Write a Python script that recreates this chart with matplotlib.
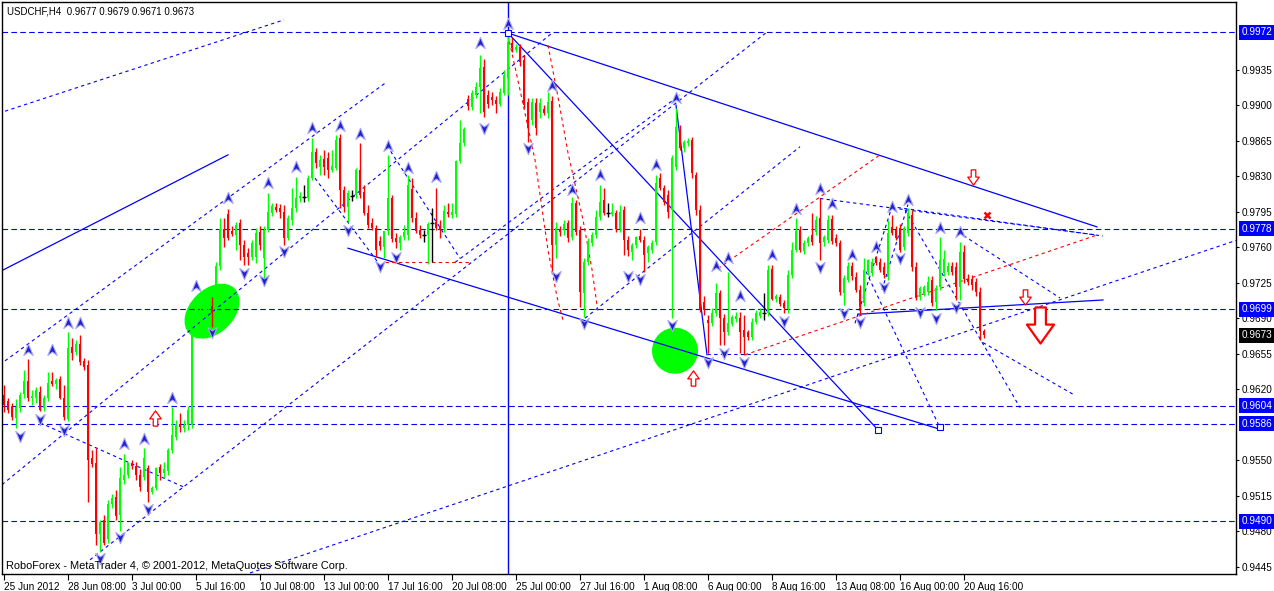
#!/usr/bin/env python3

import numpy as np
import matplotlib.pyplot as plt
import matplotlib.transforms as mtransforms
from matplotlib.patches import Ellipse
from matplotlib.path import Path

# H4 candles, 25 Jun 16:00 .. 21 Aug 12:00 2012
opens = [0.9614, 0.9608, 0.9603, 0.9592, 0.9602, 0.9615, 0.9628, 0.9611, 0.9611, 0.9617,
         0.9602, 0.9611, 0.9628, 0.9625, 0.9630, 0.9611, 0.9591, 0.9662, 0.9657, 0.9665,
         0.9648, 0.9644, 0.9552, 0.9547, 0.9477, 0.9491, 0.9472, 0.9507, 0.9514, 0.9496,
         0.9531, 0.9536, 0.9547, 0.9544, 0.9536, 0.9534, 0.9542, 0.9519, 0.9523, 0.9543,
         0.9538, 0.9539, 0.9560, 0.9573, 0.9586, 0.9582, 0.9585, 0.9585, 0.9674, 0.9686,
         0.9696, 0.9705, 0.9702, 0.9697, 0.9741, 0.9778, 0.9793, 0.9776, 0.9772, 0.9784,
         0.9762, 0.9754, 0.9750, 0.9750, 0.9775, 0.9749, 0.9777, 0.9794, 0.9800, 0.9799,
         0.9795, 0.9769, 0.9787, 0.9799, 0.9808, 0.9809, 0.9808, 0.9828, 0.9854, 0.9839,
         0.9847, 0.9848, 0.9836, 0.9838, 0.9868, 0.9816, 0.9800, 0.9810, 0.9811, 0.9836,
         0.9814, 0.9794, 0.9784, 0.9779, 0.9766, 0.9760, 0.9776, 0.9808, 0.9769, 0.9764,
         0.9770, 0.9772, 0.9817, 0.9789, 0.9777, 0.9772, 0.9772, 0.9784, 0.9785, 0.9781,
         0.9779, 0.9795, 0.9792, 0.9793, 0.9845, 0.9863, 0.9906, 0.9898, 0.9910, 0.9918,
         0.9938, 0.9910, 0.9908, 0.9905, 0.9901, 0.9912, 0.9927, 0.9961, 0.9954, 0.9957,
         0.9944, 0.9903, 0.9885, 0.9902, 0.9893, 0.9896, 0.9892, 0.9904, 0.9762, 0.9778,
         0.9777, 0.9784, 0.9770, 0.9804, 0.9777, 0.9715, 0.9745, 0.9764, 0.9772, 0.9790,
         0.9807, 0.9794, 0.9793, 0.9794, 0.9778, 0.9797, 0.9767, 0.9755, 0.9762, 0.9771,
         0.9767, 0.9754, 0.9757, 0.9765, 0.9828, 0.9818, 0.9811, 0.9797, 0.9839, 0.9875,
         0.9858, 0.9863, 0.9866, 0.9831, 0.9797, 0.9706, 0.9688, 0.9685, 0.9695, 0.9715,
         0.9690, 0.9676, 0.9684, 0.9689, 0.9690, 0.9678, 0.9676, 0.9672, 0.9686, 0.9692,
         0.9695, 0.9695, 0.9739, 0.9709, 0.9711, 0.9705, 0.9699, 0.9733, 0.9757, 0.9777,
         0.9756, 0.9764, 0.9772, 0.9775, 0.9789, 0.9765, 0.9767, 0.9788, 0.9769, 0.9764,
         0.9715, 0.9728, 0.9741, 0.9731, 0.9718, 0.9705, 0.9736, 0.9735, 0.9747, 0.9745,
         0.9740, 0.9731, 0.9780, 0.9777, 0.9779, 0.9760, 0.9774, 0.9792, 0.9740, 0.9711,
         0.9715, 0.9716, 0.9728, 0.9706, 0.9721, 0.9735, 0.9736, 0.9741, 0.9740, 0.9721,
         0.9755, 0.9729, 0.9729, 0.9726, 0.9716, 0.9677]
highs = [0.9624, 0.9611, 0.9606, 0.9610, 0.9617, 0.9639, 0.9650, 0.9619, 0.9622, 0.9623,
         0.9614, 0.9637, 0.9637, 0.9631, 0.9633, 0.9624, 0.9676, 0.9671, 0.9669, 0.9673,
         0.9651, 0.9649, 0.9560, 0.9562, 0.9491, 0.9496, 0.9511, 0.9517, 0.9521, 0.9543,
         0.9556, 0.9548, 0.9550, 0.9548, 0.9541, 0.9562, 0.9545, 0.9525, 0.9543, 0.9546,
         0.9548, 0.9562, 0.9603, 0.9590, 0.9597, 0.9590, 0.9604, 0.9677, 0.9690, 0.9700,
         0.9710, 0.9713, 0.9711, 0.9745, 0.9789, 0.9789, 0.9798, 0.9781, 0.9785, 0.9788,
         0.9767, 0.9759, 0.9767, 0.9779, 0.9781, 0.9781, 0.9813, 0.9804, 0.9804, 0.9803,
         0.9802, 0.9792, 0.9818, 0.9829, 0.9814, 0.9821, 0.9831, 0.9868, 0.9858, 0.9851,
         0.9856, 0.9854, 0.9856, 0.9871, 0.9872, 0.9820, 0.9816, 0.9816, 0.9838, 0.9863,
         0.9821, 0.9802, 0.9789, 0.9782, 0.9771, 0.9767, 0.9851, 0.9811, 0.9774, 0.9772,
         0.9782, 0.9831, 0.9828, 0.9795, 0.9782, 0.9777, 0.9785, 0.9799, 0.9818, 0.9787,
         0.9802, 0.9804, 0.9804, 0.9846, 0.9885, 0.9878, 0.9910, 0.9915, 0.9923, 0.9949,
         0.9945, 0.9915, 0.9913, 0.9909, 0.9917, 0.9935, 0.9972, 0.9967, 0.9960, 0.9960,
         0.9949, 0.9907, 0.9907, 0.9907, 0.9907, 0.9900, 0.9913, 0.9909, 0.9785, 0.9781,
         0.9787, 0.9787, 0.9809, 0.9807, 0.9781, 0.9749, 0.9769, 0.9775, 0.9797, 0.9821,
         0.9818, 0.9804, 0.9804, 0.9797, 0.9802, 0.9801, 0.9771, 0.9764, 0.9771, 0.9778,
         0.9771, 0.9762, 0.9767, 0.9831, 0.9833, 0.9821, 0.9816, 0.9851, 0.9897, 0.9880,
         0.9866, 0.9868, 0.9869, 0.9834, 0.9802, 0.9712, 0.9693, 0.9700, 0.9725, 0.9718,
         0.9694, 0.9736, 0.9693, 0.9696, 0.9696, 0.9693, 0.9678, 0.9690, 0.9698, 0.9700,
         0.9715, 0.9742, 0.9742, 0.9714, 0.9714, 0.9708, 0.9738, 0.9765, 0.9789, 0.9781,
         0.9767, 0.9771, 0.9794, 0.9791, 0.9808, 0.9772, 0.9792, 0.9792, 0.9773, 0.9767,
         0.9733, 0.9745, 0.9745, 0.9736, 0.9723, 0.9749, 0.9748, 0.9749, 0.9751, 0.9749,
         0.9745, 0.9787, 0.9792, 0.9781, 0.9783, 0.9781, 0.9799, 0.9797, 0.9745, 0.9722,
         0.9723, 0.9732, 0.9732, 0.9723, 0.9770, 0.9757, 0.9745, 0.9745, 0.9745, 0.9765,
         0.9762, 0.9734, 0.9733, 0.9730, 0.9721, 0.9679]
lows = [0.9598, 0.9597, 0.9590, 0.9582, 0.9598, 0.9611, 0.9608, 0.9605, 0.9606, 0.9599,
        0.9599, 0.9608, 0.9623, 0.9620, 0.9610, 0.9590, 0.9589, 0.9649, 0.9654, 0.9644,
        0.9639, 0.9509, 0.9543, 0.9467, 0.9460, 0.9467, 0.9469, 0.9503, 0.9491, 0.9480,
        0.9527, 0.9533, 0.9541, 0.9531, 0.9520, 0.9531, 0.9509, 0.9517, 0.9521, 0.9531,
        0.9533, 0.9536, 0.9557, 0.9570, 0.9578, 0.9578, 0.9580, 0.9582, 0.9671, 0.9683,
        0.9692, 0.9698, 0.9681, 0.9694, 0.9738, 0.9760, 0.9767, 0.9771, 0.9757, 0.9747,
        0.9742, 0.9742, 0.9747, 0.9744, 0.9757, 0.9728, 0.9775, 0.9791, 0.9795, 0.9789,
        0.9762, 0.9767, 0.9782, 0.9795, 0.9805, 0.9805, 0.9806, 0.9826, 0.9838, 0.9831,
        0.9831, 0.9828, 0.9834, 0.9836, 0.9799, 0.9795, 0.9785, 0.9806, 0.9808, 0.9808,
        0.9792, 0.9779, 0.9777, 0.9750, 0.9757, 0.9749, 0.9772, 0.9765, 0.9759, 0.9757,
        0.9767, 0.9767, 0.9785, 0.9774, 0.9769, 0.9765, 0.9743, 0.9745, 0.9777, 0.9769,
        0.9775, 0.9790, 0.9789, 0.9790, 0.9843, 0.9860, 0.9895, 0.9895, 0.9907, 0.9892,
        0.9888, 0.9897, 0.9900, 0.9892, 0.9899, 0.9910, 0.9910, 0.9952, 0.9952, 0.9939,
        0.9897, 0.9864, 0.9880, 0.9871, 0.9887, 0.9890, 0.9887, 0.9734, 0.9749, 0.9771,
        0.9772, 0.9765, 0.9767, 0.9772, 0.9701, 0.9691, 0.9742, 0.9761, 0.9769, 0.9787,
        0.9792, 0.9790, 0.9791, 0.9775, 0.9775, 0.9752, 0.9751, 0.9747, 0.9759, 0.9765,
        0.9736, 0.9745, 0.9754, 0.9762, 0.9816, 0.9802, 0.9789, 0.9690, 0.9836, 0.9856,
        0.9854, 0.9860, 0.9828, 0.9792, 0.9696, 0.9693, 0.9656, 0.9682, 0.9692, 0.9664,
        0.9664, 0.9673, 0.9682, 0.9686, 0.9656, 0.9654, 0.9669, 0.9669, 0.9684, 0.9690,
        0.9688, 0.9692, 0.9708, 0.9706, 0.9702, 0.9695, 0.9695, 0.9730, 0.9755, 0.9755,
        0.9753, 0.9761, 0.9762, 0.9772, 0.9747, 0.9761, 0.9764, 0.9763, 0.9761, 0.9713,
        0.9703, 0.9726, 0.9728, 0.9716, 0.9693, 0.9702, 0.9733, 0.9732, 0.9742, 0.9736,
        0.9730, 0.9728, 0.9772, 0.9767, 0.9755, 0.9757, 0.9771, 0.9737, 0.9708, 0.9708,
        0.9712, 0.9713, 0.9702, 0.9698, 0.9718, 0.9732, 0.9733, 0.9733, 0.9708, 0.9708,
        0.9725, 0.9723, 0.9718, 0.9712, 0.9669, 0.9671]
closes = [0.9605, 0.9600, 0.9593, 0.9603, 0.9614, 0.9628, 0.9611, 0.9613, 0.9619, 0.9600,
          0.9611, 0.9626, 0.9625, 0.9629, 0.9611, 0.9593, 0.9661, 0.9656, 0.9665, 0.9647,
          0.9642, 0.9550, 0.9546, 0.9477, 0.9489, 0.9469, 0.9507, 0.9513, 0.9495, 0.9533,
          0.9536, 0.9547, 0.9544, 0.9536, 0.9524, 0.9552, 0.9519, 0.9523, 0.9542, 0.9538,
          0.9541, 0.9560, 0.9575, 0.9586, 0.9583, 0.9585, 0.9600, 0.9674, 0.9686, 0.9696,
          0.9705, 0.9710, 0.9695, 0.9741, 0.9778, 0.9769, 0.9769, 0.9773, 0.9782, 0.9762,
          0.9750, 0.9750, 0.9764, 0.9774, 0.9762, 0.9777, 0.9795, 0.9801, 0.9797, 0.9795,
          0.9769, 0.9789, 0.9799, 0.9808, 0.9810, 0.9809, 0.9828, 0.9854, 0.9843, 0.9846,
          0.9839, 0.9836, 0.9840, 0.9866, 0.9816, 0.9800, 0.9813, 0.9810, 0.9836, 0.9811,
          0.9794, 0.9782, 0.9779, 0.9757, 0.9761, 0.9776, 0.9808, 0.9768, 0.9765, 0.9770,
          0.9775, 0.9821, 0.9789, 0.9776, 0.9772, 0.9772, 0.9783, 0.9784, 0.9779, 0.9777,
          0.9796, 0.9793, 0.9795, 0.9845, 0.9863, 0.9876, 0.9899, 0.9912, 0.9918, 0.9937,
          0.9893, 0.9901, 0.9905, 0.9901, 0.9913, 0.9930, 0.9962, 0.9956, 0.9957, 0.9942,
          0.9900, 0.9877, 0.9903, 0.9877, 0.9902, 0.9892, 0.9903, 0.9762, 0.9779, 0.9775,
          0.9783, 0.9769, 0.9804, 0.9775, 0.9716, 0.9745, 0.9766, 0.9772, 0.9790, 0.9805,
          0.9794, 0.9794, 0.9795, 0.9778, 0.9795, 0.9767, 0.9757, 0.9762, 0.9770, 0.9767,
          0.9752, 0.9760, 0.9764, 0.9823, 0.9818, 0.9805, 0.9795, 0.9848, 0.9878, 0.9858,
          0.9864, 0.9865, 0.9833, 0.9797, 0.9698, 0.9698, 0.9685, 0.9695, 0.9715, 0.9690,
          0.9676, 0.9685, 0.9691, 0.9692, 0.9676, 0.9672, 0.9672, 0.9686, 0.9695, 0.9696,
          0.9695, 0.9738, 0.9709, 0.9712, 0.9704, 0.9700, 0.9733, 0.9757, 0.9776, 0.9757,
          0.9764, 0.9769, 0.9765, 0.9787, 0.9764, 0.9770, 0.9787, 0.9766, 0.9764, 0.9716,
          0.9730, 0.9741, 0.9732, 0.9718, 0.9701, 0.9738, 0.9747, 0.9745, 0.9744, 0.9738,
          0.9733, 0.9774, 0.9774, 0.9769, 0.9757, 0.9779, 0.9794, 0.9740, 0.9710, 0.9720,
          0.9721, 0.9726, 0.9705, 0.9720, 0.9747, 0.9748, 0.9741, 0.9736, 0.9721, 0.9755,
          0.9729, 0.9726, 0.9723, 0.9716, 0.9677, 0.9673]

date_ticks = [0, 16, 32, 48, 64, 80, 96, 112, 128, 144, 160, 176, 192, 208, 224, 240]
date_labels = ['25 Jun 2012', '28 Jun 08:00', '3 Jul 00:00', '5 Jul 16:00', '10 Jul 08:00',
               '13 Jul 00:00', '17 Jul 16:00', '20 Jul 08:00', '25 Jul 00:00', '27 Jul 16:00',
               '1 Aug 08:00', '6 Aug 00:00', '8 Aug 16:00', '13 Aug 08:00', '16 Aug 00:00',
               '20 Aug 16:00']
# 0.9585 and 0.9970 sit under the level boxes and are not shown
price_ticks = [0.9445, 0.9480, 0.9515, 0.9550, 0.9620, 0.9655, 0.9690, 0.9725,
               0.9760, 0.9795, 0.9830, 0.9865, 0.9900, 0.9935]
levels = [0.9972, 0.9778, 0.9699, 0.9604, 0.9586, 0.9490]
last_price = 0.9673

# drawn objects, as (bar, price) pairs
solid_lines = [((-0.5, 0.9737), (56, 0.9851)),
               ((126, 0.9971), (273.25, 0.9780)),
               ((86, 0.9759), (234.5, 0.9580)),
               ((126, 0.9971), (218.5, 0.9580)),
               ((168, 0.9900), (175.75, 0.9654)),
               ((213.5, 0.9694), (274.75, 0.9708))]
dashed_lines = [((0.25, 0.9894), (70, 0.9984)),
                ((0.25, 0.9648), (95.75, 0.9923)),
                ((-0.5, 0.9526), (137, 0.9971)),
                ((21.5, 0.9452), (190.75, 0.9972)),
                ((145.25, 0.9690), (199, 0.9859)),
                ((112.75, 0.9745), (169, 0.9910)),
                ((61.5, 0.9439), (308.25, 0.9767)),
                ((175.75, 0.9655), (246.5, 0.9655)),
                ((204, 0.9808), (273.25, 0.9772)),
                ((221.75, 0.9800), (274.75, 0.9771)),
                ((238.5, 0.9775), (264, 0.9710)),
                ((9, 0.9587), (44.75, 0.9524)),
                ((77.75, 0.9828), (93.5, 0.9745)),
                ((95.75, 0.9860), (114, 0.9749)),
                ((225.25, 0.9797), (254, 0.9602)),
                ((244.75, 0.9666), (267.75, 0.9614)),
                ((215.5, 0.9736), (234, 0.9582)),
                ((212.75, 0.9685), (222, 0.9800)),
                ((219.5, 0.9718), (226, 0.9802))]
red_lines = [[(95.25, 0.9745), (116.5, 0.9745)],
             [(126, 0.9969), (129, 0.9915), (132.75, 0.9846), (136, 0.9757), (138.25, 0.9711), (139.75, 0.9688)],
             [(136, 0.9959), (138.5, 0.9908), (141, 0.9853), (144.75, 0.9787), (147, 0.9738), (148.5, 0.9696)],
             [(178.5, 0.9739), (219, 0.9851)],
             [(185.25, 0.9654), (273.25, 0.9772)]]
squares = [(126, 0.9971), (218.5, 0.9580), (234, 0.9583)]

frac_up = [(6, 0.9659), (12, 0.9659), (16, 0.9685), (19, 0.9685), (30, 0.9566), (35, 0.9571),
           (42, 0.9611), (48, 0.9722), (56, 0.9808), (66, 0.9823), (73, 0.9839), (77, 0.9877),
           (84, 0.9879), (89, 0.9872), (96, 0.9860), (101, 0.9838), (108, 0.9829), (119, 0.9961),
           (126, 0.9980), (137, 0.9919), (142, 0.9816), (149, 0.9831), (159, 0.9789), (163, 0.9841),
           (168, 0.9907), (178, 0.9741), (181, 0.9749), (184, 0.9712), (192, 0.9752), (198, 0.9798),
           (204, 0.9817), (207, 0.9803), (212, 0.9752), (218, 0.9760), (222, 0.9800), (226, 0.9807),
           (234, 0.9779), (239, 0.9775)]
frac_down = [(4, 0.9574), (9, 0.9591), (15, 0.9580), (24, 0.9454), (29, 0.9474), (36, 0.9502),
             (52, 0.9676), (60, 0.9735), (65, 0.9728), (70, 0.9756), (86, 0.9777), (94, 0.9741),
             (98, 0.9750), (120, 0.9877), (131, 0.9858), (138, 0.9732), (145, 0.9685), (156, 0.9732),
             (159, 0.9729), (167, 0.9683), (176, 0.9647), (180, 0.9656), (185, 0.9647), (195, 0.9687),
             (204, 0.9740), (210, 0.9695), (214, 0.9686), (220, 0.9721), (224, 0.9749), (229, 0.9696),
             (233, 0.9690), (238, 0.9701)]
red_down_small = [(242.25, 0.9829), (255.25, 0.9711)]
red_down_big = [(259, 0.9683)]
red_up = [(37.75, 0.9592), (172.25, 0.9631)]
red_cross = [(245.75, 0.9792)]

plt.rcParams['font.family'] = ['Liberation Sans', 'DejaVu Sans']

fig = plt.figure(figsize=(12.74, 5.91), dpi=100)
ax = fig.add_axes([2 / 1274, 17 / 591, 1234 / 1274, 572 / 591])
ax.set_xlim(-0.5, 308)
ax.set_ylim(0.94380, 1.00016)

BLUE = '#0000ff'
GREEN = '#00ff00'
RED = '#ff0000'

# green highlight shapes, sized in pixels
def px_trans(bx, by):
    return fig.dpi_scale_trans + mtransforms.ScaledTranslation(bx, by, ax.transData)

ax.add_patch(Ellipse((0, 0), 0.64, 0.44, angle=45, transform=px_trans(52, 0.9697),
                     fc=GREEN, ec='none', zorder=1))
ax.add_patch(Ellipse((0, 0), 0.46, 0.46, transform=px_trans(167.75, 0.9658),
                     fc=GREEN, ec='none', zorder=1))

# horizontal levels
for lv in levels:
    ax.axhline(lv, color=BLUE, lw=0.8, dashes=(5, 3), zorder=1.5)

# objects
ax.axvline(126, color=BLUE, lw=1.0, zorder=1.5)
for (x0, y0), (x1, y1) in solid_lines:
    ax.plot([x0, x1], [y0, y1], color=BLUE, lw=0.9, zorder=1.5)
for (x0, y0), (x1, y1) in dashed_lines:
    ax.plot([x0, x1], [y0, y1], color=BLUE, lw=0.8, dashes=(3, 3), zorder=1.5)
for pts in red_lines:
    px, py = zip(*pts)
    ax.plot(px, py, color=RED, lw=0.8, dashes=(3, 3), zorder=1.5)
ax.plot(*zip(*squares), ls='none', marker='s', ms=4, mfc='white', mec=BLUE, mew=0.8, zorder=3)

# candles
opens = np.array(opens)
highs = np.array(highs)
lows = np.array(lows)
closes = np.array(closes)
xs = np.arange(len(opens))
colors = np.where(closes > opens, GREEN, np.where(closes < opens, RED, 'black'))
ax.vlines(xs, lows, highs, colors=colors, lw=1.0, zorder=2)
body = closes != opens
ax.bar(xs[body], (closes - opens)[body], bottom=opens[body], width=0.72,
       color=colors[body], lw=0, zorder=2.1)
ax.hlines(opens[~body], xs[~body] - 0.45, xs[~body] + 0.45, colors='black', lw=1.0, zorder=2.1)

# fractal arrows
up_head = Path([(0, 1), (0.75, -0.8), (0, -0.25), (-0.75, -0.8), (0, 1)],
               [Path.MOVETO, Path.LINETO, Path.LINETO, Path.LINETO, Path.CLOSEPOLY])
down_head = Path([(0, -1), (0.75, 0.8), (0, 0.25), (-0.75, 0.8), (0, -1)],
                 [Path.MOVETO, Path.LINETO, Path.LINETO, Path.LINETO, Path.CLOSEPOLY])
ax.plot(*zip(*frac_up), ls='none', marker=up_head, ms=9, mfc='#2020d0', mec='#a8a8f0',
        mew=0.8, zorder=3)
ax.plot(*zip(*frac_down), ls='none', marker=down_head, ms=9, mfc='#2020d0', mec='#a8a8f0',
        mew=0.8, zorder=3)

# red signal arrows
block_down = Path([(-0.3, 1), (0.3, 1), (0.3, 0.05), (0.75, 0.05), (0, -1), (-0.75, 0.05),
                   (-0.3, 0.05), (-0.3, 1)])
block_up = Path([(-0.3, -1), (0.3, -1), (0.3, -0.05), (0.75, -0.05), (0, 1), (-0.75, -0.05),
                 (-0.3, -0.05), (-0.3, -1)])
ax.plot(*zip(*red_down_small), ls='none', marker=block_down, ms=11, mfc='white', mec=RED,
        mew=0.9, zorder=3)
ax.plot(*zip(*red_down_big), ls='none', marker=block_down, ms=26, mfc='white', mec=RED,
        mew=1.6, zorder=3)
ax.plot(*zip(*red_up), ls='none', marker=block_up, ms=11, mfc='white', mec=RED, mew=0.9,
        zorder=3)
ax.plot(*zip(*red_cross), ls='none', marker='x', ms=5, mec=RED, mew=1.8, zorder=3)

# axes, ticks
for sp in ax.spines.values():
    sp.set_color('black')
    sp.set_linewidth(1.0)
ax.yaxis.tick_right()
ax.set_yticks(price_ticks)
ax.set_yticklabels(['%.4f' % p for p in price_ticks])
ax.set_xticks(date_ticks)
ax.set_xticklabels(date_labels)
for lbl in ax.get_xticklabels():
    lbl.set_horizontalalignment('left')
ax.tick_params(axis='y', length=2.5, width=0.8, pad=1.5, labelsize=7.2)
ax.tick_params(axis='x', length=4, width=0.8, pad=1.5, labelsize=7.2)

# price boxes on the right scale
lbl_trans = mtransforms.blended_transform_factory(ax.transAxes, ax.transData)
for lv in levels:
    ax.text(1.0042, lv, '%.4f' % lv, transform=lbl_trans, va='center', ha='left',
            fontsize=7.2, color='white', clip_on=False, zorder=5,
            bbox=dict(boxstyle='square,pad=0.25', fc=BLUE, ec='none'))
ax.text(1.0042, last_price, '%.4f' % last_price, transform=lbl_trans, va='center', ha='left',
        fontsize=7.2, color='white', clip_on=False, zorder=5,
        bbox=dict(boxstyle='square,pad=0.25', fc='black', ec='none'))

ax.text(0.004, 0.992, 'USDCHF,H4  0.9677 0.9679 0.9671 0.9673', transform=ax.transAxes,
        va='top', ha='left', fontsize=7.0)
ax.text(0.003, 0.014, 'RoboForex - MetaTrader 4, © 2001-2012, MetaQuotes Software Corp.',
        transform=ax.transAxes, va='center', ha='left', fontsize=7.9)

fig.savefig('out.png', dpi=100, facecolor='white')
